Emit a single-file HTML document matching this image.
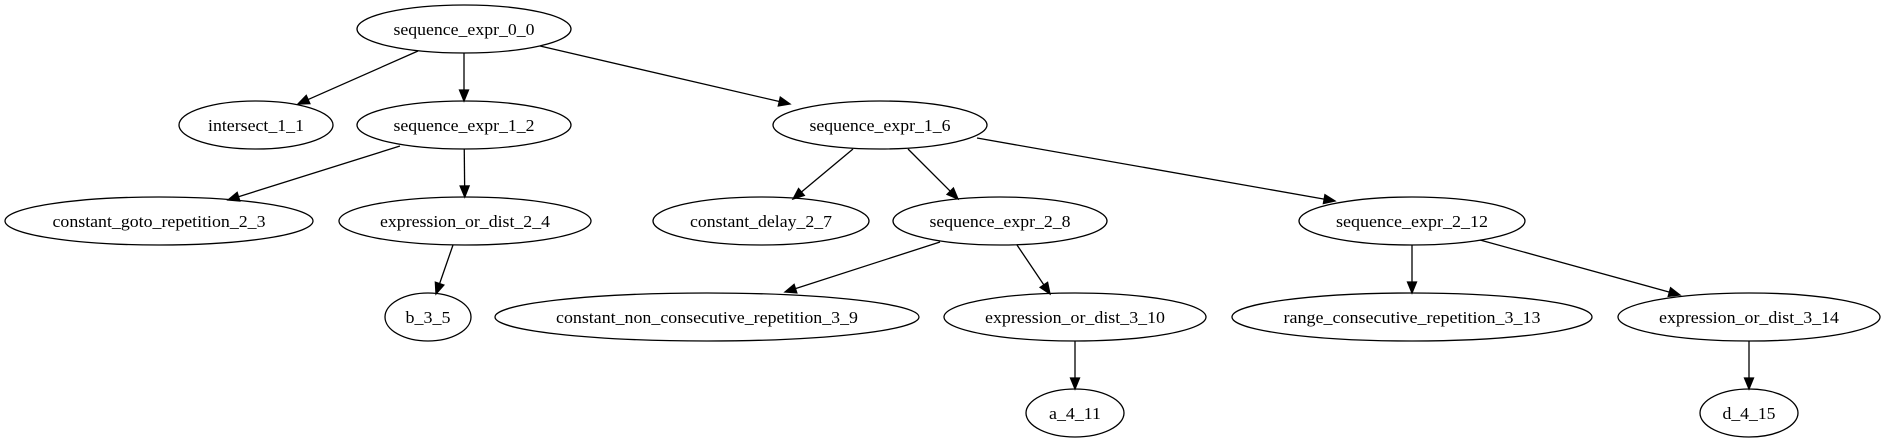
<!DOCTYPE html>
<html><head><meta charset="utf-8"><style>
html,body{margin:0;padding:0;background:#fff;width:1887px;height:443px;overflow:hidden}
svg text{font-family:"Liberation Serif",serif;font-size:17px}
</style></head><body>
<svg id="g" width="1887" height="443" xmlns="http://www.w3.org/2000/svg">
<g id="nodes" fill="none" stroke="#000" stroke-width="1.3">
<ellipse cx="464" cy="29" rx="107" ry="24"/>
<ellipse cx="256" cy="125" rx="77" ry="24"/>
<ellipse cx="464" cy="125" rx="107" ry="24"/>
<ellipse cx="880" cy="125" rx="107" ry="24"/>
<ellipse cx="159" cy="221" rx="154" ry="24"/>
<ellipse cx="465" cy="221" rx="126" ry="24"/>
<ellipse cx="761" cy="221" rx="108" ry="24"/>
<ellipse cx="1000" cy="221" rx="107" ry="24"/>
<ellipse cx="1412" cy="221" rx="113" ry="24"/>
<ellipse cx="428" cy="317" rx="43" ry="24"/>
<ellipse cx="707" cy="317" rx="212" ry="24"/>
<ellipse cx="1075" cy="317" rx="131" ry="24"/>
<ellipse cx="1412" cy="317" rx="180" ry="24"/>
<ellipse cx="1749" cy="317" rx="131" ry="24"/>
<ellipse cx="1075" cy="413" rx="49" ry="24"/>
<ellipse cx="1749" cy="413" rx="49" ry="24"/>
</g>
<g text-anchor="middle" fill="#000">
<text x="464" y="35" textLength="141" lengthAdjust="spacingAndGlyphs">sequence_expr_0_0</text>
<text x="256" y="131" textLength="96" lengthAdjust="spacingAndGlyphs">intersect_1_1</text>
<text x="464" y="131" textLength="141" lengthAdjust="spacingAndGlyphs">sequence_expr_1_2</text>
<text x="880" y="131" textLength="141" lengthAdjust="spacingAndGlyphs">sequence_expr_1_6</text>
<text x="159" y="227" textLength="213" lengthAdjust="spacingAndGlyphs">constant_goto_repetition_2_3</text>
<text x="465" y="227" textLength="170" lengthAdjust="spacingAndGlyphs">expression_or_dist_2_4</text>
<text x="761" y="227" textLength="142" lengthAdjust="spacingAndGlyphs">constant_delay_2_7</text>
<text x="1000" y="227" textLength="141" lengthAdjust="spacingAndGlyphs">sequence_expr_2_8</text>
<text x="1412" y="227" textLength="152" lengthAdjust="spacingAndGlyphs">sequence_expr_2_12</text>
<text x="428" y="323" textLength="45" lengthAdjust="spacingAndGlyphs">b_3_5</text>
<text x="707" y="323" textLength="302" lengthAdjust="spacingAndGlyphs">constant_non_consecutive_repetition_3_9</text>
<text x="1075" y="323" textLength="180" lengthAdjust="spacingAndGlyphs">expression_or_dist_3_10</text>
<text x="1412" y="323" textLength="257" lengthAdjust="spacingAndGlyphs">range_consecutive_repetition_3_13</text>
<text x="1749" y="323" textLength="180" lengthAdjust="spacingAndGlyphs">expression_or_dist_3_14</text>
<text x="1075" y="419" textLength="52" lengthAdjust="spacingAndGlyphs">a_4_11</text>
<text x="1749" y="419" textLength="53" lengthAdjust="spacingAndGlyphs">d_4_15</text>
</g>
<g id="edges" stroke="#000" stroke-width="1.3" fill="#000"></g>
</svg>
<script>
var N=[[464,29,107],[256,125,77],[464,125,107],[880,125,107],[159,221,154],[465,221,126],[761,221,108],[1000,221,107],[1412,221,113],[428,317,43],[707,317,212],[1075,317,131],[1412,317,180],[1749,317,131],[1075,413,49],[1749,413,49]];
var E=[[0,1],[0,2],[0,3],[2,4],[2,5],[3,6],[3,7],[3,8],[5,9],[7,10],[7,11],[8,12],[8,13],[11,14],[13,15]];
var S={"2,4":[400,146,228,200],"3,6":[853,149,793,199],"3,7":[908,149,958,199],"5,9":[453,245,436,294],"7,10":[940,242,785,292],"7,11":[1017,245,1050,294],"8,13":[1480,240,1680,295],"0,3":[540,46,790,104],"0,1":[418,51,298,104],"3,8":[977,138,1335,201]};
var g=document.getElementById('edges'),ns='http://www.w3.org/2000/svg';
function bd(n,dx,dy){var t=1/Math.sqrt(dx*dx/(n[2]*n[2])+dy*dy/(24*24));return [n[0]+dx*t,n[1]+dy*t];}
E.forEach(function(e){var a=N[e[0]],b=N[e[1]],p,q,k=e.join(',');
 if(S[k]){p=[S[k][0],S[k][1]];q=[S[k][2],S[k][3]];}
 else{var dx=b[0]-a[0],dy=b[1]-a[1];p=bd(a,dx,dy);q=bd(b,-dx,-dy);}
 var dx=q[0]-p[0],dy=q[1]-p[1],L=Math.sqrt(dx*dx+dy*dy),ux=dx/L,uy=dy/L,al=11,aw=4.5;
 var bx=q[0]-ux*al,by=q[1]-uy*al;
 var l=document.createElementNS(ns,'line');l.setAttribute('x1',p[0]);l.setAttribute('y1',p[1]);l.setAttribute('x2',bx);l.setAttribute('y2',by);g.appendChild(l);
 var pg=document.createElementNS(ns,'polygon');pg.setAttribute('points',q[0]+','+q[1]+' '+(bx-uy*aw)+','+(by+ux*aw)+' '+(bx+uy*aw)+','+(by-ux*aw));g.appendChild(pg);
});
</script>
</body></html>
